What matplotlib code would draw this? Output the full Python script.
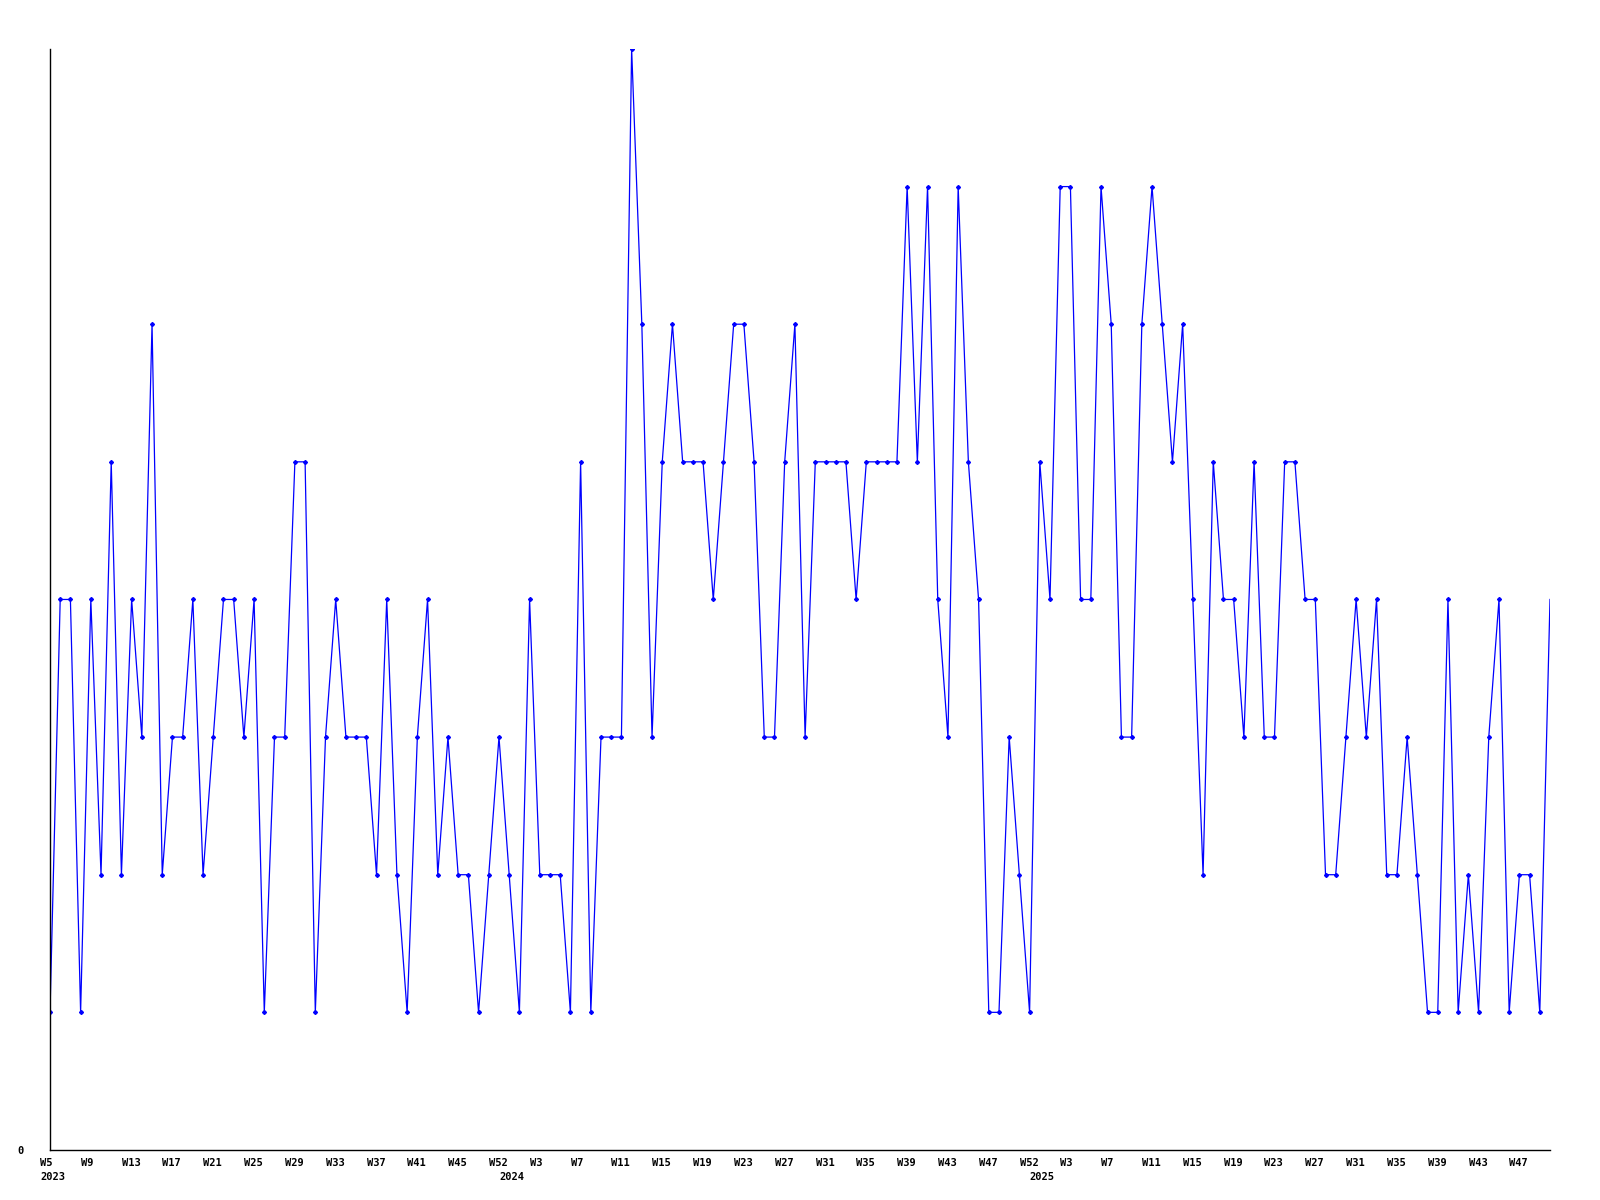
import numpy as np
import matplotlib
matplotlib.use("Agg")
import matplotlib.pyplot as plt
from matplotlib.transforms import ScaledTranslation

# weekly counts, 2023 W5 .. 2025 W48-ish (one value per plotted week)
values = [
    1, 4, 4, 1, 4, 2, 5, 2, 4, 3, 6, 2, 3, 3, 4, 2, 3, 4, 4, 3,
    4, 1, 3, 3, 5, 5, 1, 3, 4, 3, 3, 3, 2, 4, 2, 1, 3, 4, 2, 3,
    2, 2, 1, 2, 3, 2, 1, 4, 2, 2, 2, 1, 5, 1, 3, 3, 3, 8, 6, 3,
    5, 6, 5, 5, 5, 4, 5, 6, 6, 5, 3, 3, 5, 6, 3, 5, 5, 5, 5, 4,
    5, 5, 5, 5, 7, 5, 7, 4, 3, 7, 5, 4, 1, 1, 3, 2, 1, 5, 4, 7,
    7, 4, 4, 7, 6, 3, 3, 6, 7, 6, 5, 6, 4, 2, 5, 4, 4, 3, 5, 3,
    3, 5, 5, 4, 4, 2, 2, 3, 4, 3, 4, 2, 2, 3, 2, 1, 1, 4, 1, 2,
    1, 3, 4, 1, 2, 2, 1, 4,
]

week_labels = [
    "W5", "W9", "W13", "W17", "W21", "W25", "W29", "W33", "W37", "W41", "W45", "W52",
    "W3", "W7", "W11", "W15", "W19", "W23", "W27", "W31", "W35", "W39", "W43", "W47", "W52",
    "W3", "W7", "W11", "W15", "W19", "W23", "W27", "W31", "W35", "W39", "W43", "W47",
]
year_labels = ["2023", "2024", "2025"]
year_pos = [0, 45, 97]

x = np.arange(len(values))

fig = plt.figure(figsize=(16, 12), dpi=100)
ax = fig.add_axes([0.03125, 0.0417, 0.9375, 0.9175])

ax.plot(x, values, color="#0000ff", linewidth=0.9, marker="D", markersize=2.0,
        markevery=list(range(len(values) - 1)))

ax.set_xlim(0, len(values) - 1)
ax.set_ylim(0, 8)

for side in ["top", "right"]:
    ax.spines[side].set_visible(False)
for side in ["left", "bottom"]:
    ax.spines[side].set_linewidth(1.0)
    ax.spines[side].set_color("black")

font = dict(family="DejaVu Sans Mono", fontweight="bold", fontsize=7.5)

ax.set_yticks([0])
ax.set_yticklabels(["0"], **font)
ax.tick_params(axis="y", length=0, pad=19)

ax.xaxis.remove_overlapping_locs = False
ax.set_xticks(x[::4][:len(week_labels)])
ax.set_xticklabels(week_labels, ha="left", **font)
ax.set_xticks(year_pos, minor=True)
ax.set_xticklabels(year_labels, minor=True, ha="left", **font)
ax.tick_params(axis="x", which="major", length=0, pad=6)
ax.tick_params(axis="x", which="minor", length=0, pad=16)

shift = ScaledTranslation(-10 / 100, 0, fig.dpi_scale_trans)
for lab in ax.get_xticklabels() + ax.get_xticklabels(minor=True):
    lab.set_transform(lab.get_transform() + shift)

fig.savefig("out.png", dpi=100, facecolor="white")
